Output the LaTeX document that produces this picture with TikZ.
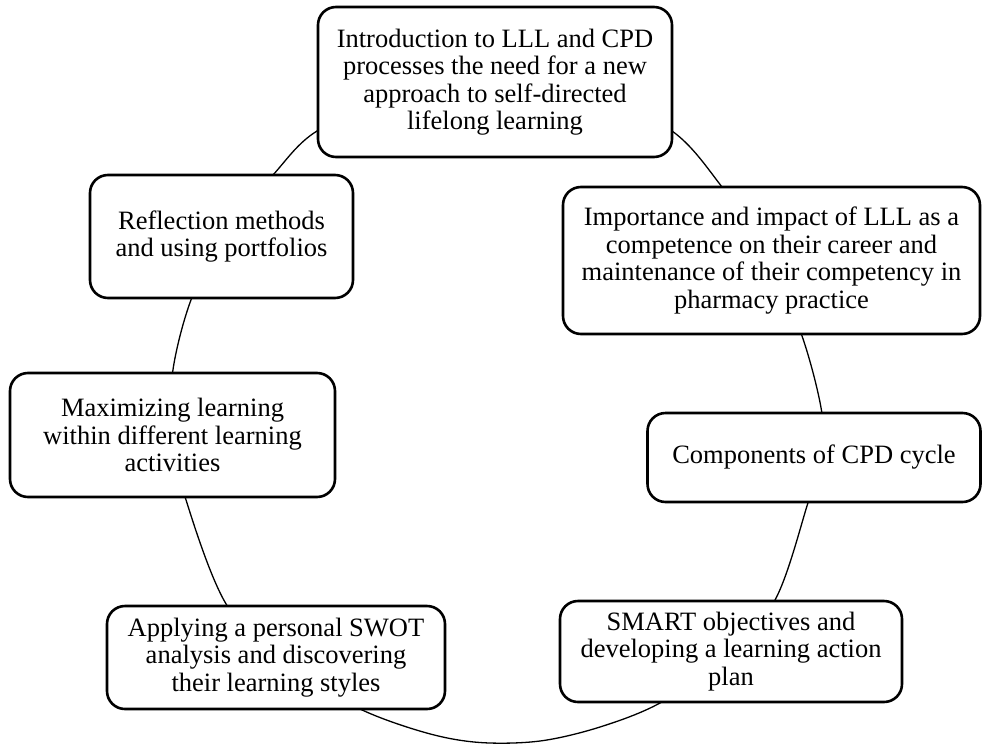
\documentclass[tikz,border=0pt]{standalone}
\usepackage{fontspec}
\setmainfont{Liberation Serif}
\begin{document}
\begin{tikzpicture}[x=1pt, y=-1pt]
\tikzset{
  stage/.style={draw, line width=2.6pt, rounded corners=18pt, fill=white,
    align=center, inner sep=0pt, font=\fontsize{26.5}{27.5}\selectfont},
  ring/.style={line width=1.3pt},
}
\useasboundingbox (0,0) rectangle (982,744);

% the cycle ring running behind the stages
\draw[ring] plot[smooth cycle, tension=0.55] coordinates {
  (495,79) (590,94) (672,131) (722,187) (766,252) (801.7,335)
  (821.7,411.7) (821,457) (808,502.7) (775,600) (722,660)
  (660,703) (600,727) (540,741) (480,742.5) (426.7,733) (360,709)
  (290,668) (226.7,605) (185,496.7) (173,435) (172.7,371.7)
  (191.7,298) (226,232) (273,175) (317,131) (400,96)};

% stages of the cycle
\node[stage, minimum width=354pt, minimum height=150pt] (intro) at (495,82)
  {Introduction to LLL and CPD\\processes the need for a new\\approach to self-directed\\lifelong learning};
\node[stage, minimum width=417pt, minimum height=147pt] (impact) at (771.5,260.5)
  {Importance and impact of LLL as a\\competence on their career and\\maintenance of their competency in\\pharmacy practice};
\node[stage, minimum width=333pt, minimum height=89pt] (cpd) at (814,457.5)
  {Components of CPD cycle};
\node[stage, minimum width=342pt, minimum height=101pt] (smart) at (731,651.5)
  {SMART objectives and\\developing a learning action\\plan};
\node[stage, minimum width=338pt, minimum height=103pt] (swot) at (276,657.5)
  {Applying a personal SWOT\\analysis and discovering\\their learning styles};
\node[stage, minimum width=325pt, minimum height=124pt] (maxi) at (172.5,435)
  {Maximizing learning\\within different learning\\activities};
\node[stage, minimum width=263pt, minimum height=123pt] (refl) at (221.5,236.5)
  {Reflection methods\\and using portfolios};
\end{tikzpicture}
\end{document}
